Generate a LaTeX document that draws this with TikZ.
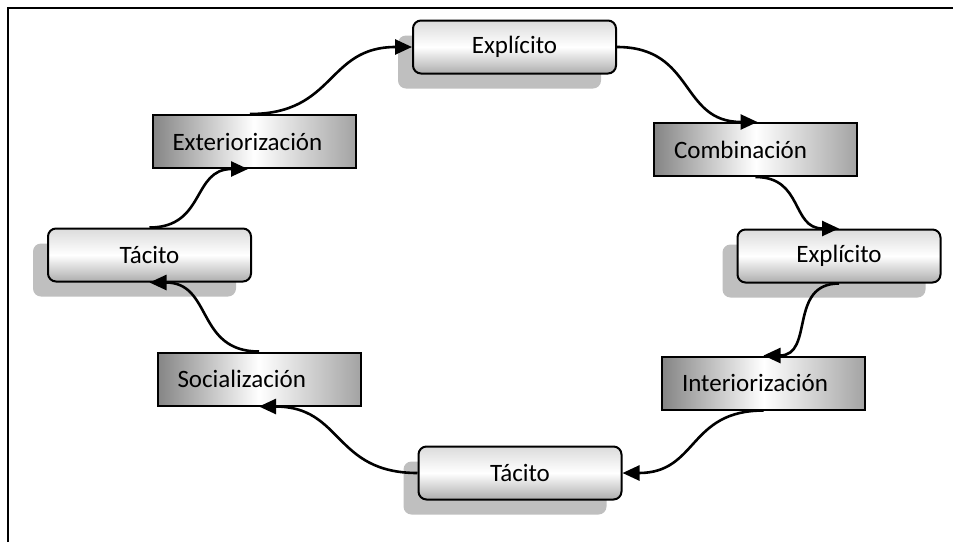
\documentclass[tikz,border=0pt]{standalone}
\usepackage{fontspec}
\setmainfont{Carlito}
\usetikzlibrary{arrows,arrows.meta,shadows}

\tikzset{
  estado/.style={draw,line width=2pt,rounded corners=8pt,minimum width=203pt,minimum height=53pt,
    top color=black!14,bottom color=black!32,middle color=white,
    drop shadow={shadow xshift=-15pt,shadow yshift=-15pt,fill=black!25,opacity=1}},
  proceso/.style={draw,line width=2pt,minimum width=203pt,minimum height=53pt,inner xsep=20pt,
    text width=163pt,align=left,left color=black!48,right color=black!36,middle color=white},
  flecha/.style={line width=2.6pt,looseness=1.25,-{Triangle[length=17pt,width=15pt]}}
}

\begin{document}
\begin{tikzpicture}[x=1pt,y=-1pt,font=\fontsize{25}{30}\selectfont]
\useasboundingbox (0,0) rectangle (953,542);
\draw[line width=2.6pt] (8,542) -- (8,8) -- (953,8);

\node[estado] (explicito1) at (514.5,47) {Explícito};
\node[proceso] (exterior) at (254,141.5) {Exteriorización};
\node[estado] (tacito1) at (149.5,255) {Tácito};
\node[proceso] (social) at (259,379) {Socialización};
\node[estado] (tacito2) at (520,473) {Tácito};
\node[proceso] (combina) at (755.5,149.5) {Combinación};
\node[estado] (explicito2) at (839,256) {Explícito};
\node[proceso] (interior) at (763.5,383) {Interiorización};

\draw[flecha] (tacito1.north) to[out=0,in=180] ([xshift=-6pt]exterior.south);
\draw[flecha] ([xshift=-4pt]exterior.north) to[out=0,in=180] (explicito1.west);
\draw[flecha] (explicito1.east) to[out=0,in=180] ([xshift=2pt]combina.south |- combina.north);
\draw[flecha] (combina.south) to[out=0,in=180] (explicito2.south |- explicito2.north);
\draw[flecha] (explicito2.south) to[out=180,in=0] (interior.north);
\draw[flecha] (interior.south) to[out=180,in=0] (tacito2.east);
\draw[flecha] (tacito2.west) to[out=180,in=0] (social.south);
\draw[flecha] (social.north) to[out=180,in=0] (tacito1.south);
\end{tikzpicture}
\end{document}
